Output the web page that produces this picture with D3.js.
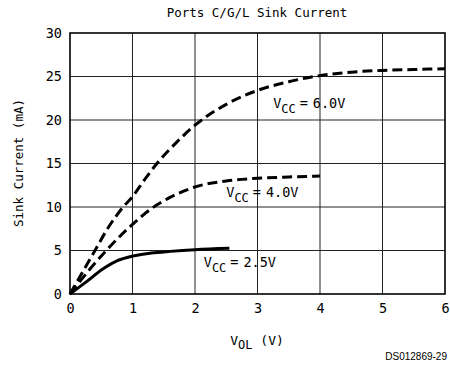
<!DOCTYPE html>
<html><head><meta charset="utf-8">
<script src="https://cdn.jsdelivr.net/npm/d3@7"></script>
<style>body{margin:0;background:#fff}svg{display:block}text{font-family:"DejaVu Sans Mono",monospace;fill:#000}</style>
</head><body>
<svg id="c" width="450" height="371"></svg>
<script>
const xTicks = [0,1,2,3,4,5,6];
const yTicks = [0,5,10,15,20,25,30];
const v60x = [0,0.2,0.4,0.6,0.85,1,1.2,1.39,1.7,2,2.5,3,3.5,4,4.5,5,5.5,6];
const v60y = [0,2.5,5,7.5,10,11.2,13.2,15,17.4,19.4,21.8,23.4,24.4,25.1,25.5,25.7,25.8,25.9];
const v40x = [0,0.3,0.58,1,1.3,1.6,2,2.5,3,3.5,4];
const v40y = [0,2.7,5,8.0,9.8,11.1,12.3,13.0,13.3,13.45,13.55];
const v25x = [0,0.27,0.53,0.75,1,1.3,1.6,2,2.55];
const v25y = [0,1.45,2.9,3.8,4.35,4.7,4.9,5.1,5.25];
const labels = [["6.0V",3.25,21.35],["4.0V",2.5,11.18],["2.5V",2.14,3.15]];

const svg = d3.select("#c");
const x = d3.scaleLinear().domain([0,6]).range([70,445]);
const y = d3.scaleLinear().domain([0,30]).range([294,33]);

// grid
svg.append("g").selectAll("line.v").data(xTicks.slice(1,-1)).join("line")
  .attr("x1",d=>x(d)).attr("x2",d=>x(d)).attr("y1",y(0)).attr("y2",y(30))
  .attr("stroke","#222").attr("stroke-width",1);
svg.append("g").selectAll("line.h").data(yTicks.slice(1,-1)).join("line")
  .attr("x1",x(0)).attr("x2",x(6)).attr("y1",d=>y(d)).attr("y2",d=>y(d))
  .attr("stroke","#222").attr("stroke-width",1);
svg.append("rect").attr("x",x(0)).attr("y",y(30)).attr("width",x(6)-x(0)).attr("height",y(0)-y(30))
  .attr("fill","none").attr("stroke","#000").attr("stroke-width",1.6);

// axes labels
const xa = svg.append("g").attr("transform",`translate(0,${y(0)})`)
  .call(d3.axisBottom(x).tickValues(xTicks).tickSize(0).tickPadding(9).tickFormat(d3.format("d")));
xa.select(".domain").remove();
xa.selectAll("text").attr("font-size",13.5).attr("font-family","DejaVu Sans Mono");
const ya = svg.append("g").attr("transform",`translate(${x(0)},0)`)
  .call(d3.axisLeft(y).tickValues(yTicks).tickSize(0).tickPadding(8).tickFormat(d3.format("d")));
ya.select(".domain").remove();
ya.selectAll("text").attr("font-size",13.5).attr("font-family","DejaVu Sans Mono");

// curves
const line = d3.line().x(d=>x(d[0])).y(d=>y(d[1])).curve(d3.curveMonotoneX);
const series = [[v60x,v60y,"10,5"],[v40x,v40y,"10,5"],[v25x,v25y,null]];
series.forEach(([xs,ys,dash])=>{
  const p = svg.append("path").datum(xs.map((v,i)=>[v,ys[i]])).attr("d",line)
    .attr("fill","none").attr("stroke","#000").attr("stroke-width",3);
  if(dash) p.attr("stroke-dasharray",dash);
});

// curve labels
labels.forEach(([t,vx,vy])=>{
  const tx = svg.append("text").attr("x",x(vx)).attr("y",y(vy)).attr("font-size",13.5);
  tx.append("tspan").text("V");
  tx.append("tspan").text("CC").attr("dy",5).attr("font-size",12);
  tx.append("tspan").text("=").attr("dy",-5).attr("dx",4);
  tx.append("tspan").text(t).attr("dx",5);
});

// titles
svg.append("text").attr("x",257).attr("y",17).attr("text-anchor","middle").attr("font-size",12.5).text("Ports C/G/L Sink Current");
svg.append("text").attr("transform","translate(23,163) rotate(-90)").attr("text-anchor","middle").attr("font-size",12.5).text("Sink Current (mA)");
const xt = svg.append("text").attr("x",257).attr("y",345).attr("text-anchor","middle").attr("font-size",13);
xt.append("tspan").text("V");
xt.append("tspan").text("OL").attr("dy",4).attr("font-size",12);
xt.append("tspan").text(" (V)").attr("dy",-4);
svg.append("text").attr("x",447).attr("y",360).attr("text-anchor","end").attr("font-size",10)
  .style("font-family","'Liberation Sans',Arial,sans-serif").text("DS012869-29");
</script>
</body></html>
